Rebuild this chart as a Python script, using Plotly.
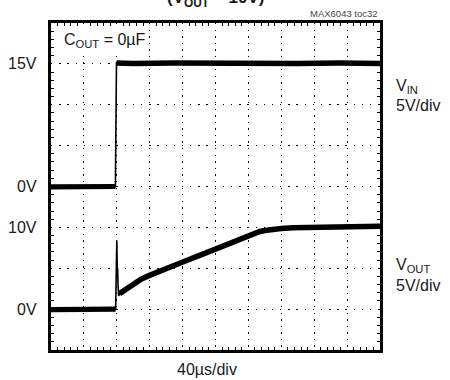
import plotly.graph_objects as go

# Time axis: 40 us/div, 10 divisions
t_vin = [0, 20, 40, 60, 78.3, 79.6, 100, 150, 200, 250, 300, 350, 400]
v_in = [-0.05, 0.0, -0.05, 0.0, 0.0, 15.1, 15.05, 15.1, 15.05, 15.1, 15.05, 15.1, 15.05]

t_vout = [0, 20, 40, 60, 78.6, 79.2, 80.0, 80.6, 81.0, 81.5, 82.3, 83.3, 90, 100, 110,
          120.5, 132.7, 140, 161, 180, 201.6, 220, 235, 242, 248, 254, 260, 266, 272,
          280, 294, 315, 335, 360, 396, 400]
v_out = [-0.05, 0.0, -0.05, 0.0, 0.0, 3.5, 8.4, 4.5, 5.0, 3.0, 1.6, 1.9, 2.4, 3.15, 3.7,
         4.16, 4.7, 5.0, 5.8, 6.55, 7.43, 8.2, 8.85, 9.12, 9.33, 9.5, 9.62, 9.72, 9.8,
         9.87, 9.95, 10.02, 10.07, 10.1, 10.15, 10.15]

left_labels_vin = [(15, "15V"), (0, "0V")]
left_labels_vout = [(10, "10V"), (0, "0V")]

FONT = "Liberation Sans, Arial, sans-serif"
INK = "#1a1a1a"
FS = 16

# indices where the scope trace switches between slow (thick) and fast (thin) parts
VIN_EDGE = 5
VOUT_EDGE, VOUT_SETTLE = 5, 11


def trace(x, y, axis, width):
    return go.Scatter(x=x, y=y, mode="lines", yaxis=axis, hoverinfo="skip",
                      line=dict(color="black", width=width))


fig = go.Figure()
# thin full-length traces show the fast transitions
fig.add_trace(trace(t_vout, v_out, "y", 1.6))
fig.add_trace(trace(t_vin, v_in, "y2", 1.6))
# thick overlays for the slowly varying parts
fig.add_trace(trace(t_vout[:VOUT_EDGE], v_out[:VOUT_EDGE], "y", 5.2))
fig.add_trace(trace(t_vout[VOUT_SETTLE:], v_out[VOUT_SETTLE:], "y", 5.5))
fig.add_trace(trace(t_vin[:VIN_EDGE], v_in[:VIN_EDGE], "y2", 5.2))
fig.add_trace(trace(t_vin[VIN_EDGE:], v_in[VIN_EDGE:], "y2", 5.5))

grid_common = dict(showline=True, linecolor="black", linewidth=3, mirror="ticks",
                   ticks="inside", ticklen=0, tickcolor="black",
                   showticklabels=False, zeroline=False, gridcolor="black",
                   gridwidth=1.4)

fig.update_layout(
    width=450, height=380,
    margin=dict(l=51, r=70, t=23, b=30),
    paper_bgcolor="white", plot_bgcolor="white",
    showlegend=False,
    xaxis=dict(range=[0, 400], dtick=40, tick0=0, griddash="1.4px,5.18px",
               minor=dict(dtick=8, ticks="inside", ticklen=3, tickcolor="black",
                          tickwidth=1.4, showgrid=False),
               **grid_common),
    yaxis=dict(range=[-5, 35], dtick=5, tick0=-5, griddash="1.4px,6.78px",
               minor=dict(dtick=1, ticks="inside", ticklen=3, tickcolor="black",
                          tickwidth=1.4, showgrid=False),
               **grid_common),
    yaxis2=dict(range=[-20, 20], overlaying="y", visible=False),
)

ann = []
for v, txt in left_labels_vin:
    ann.append(dict(x=-0.036, xref="paper", y=v, yref="y2", text=txt,
                    xanchor="right", yanchor="middle", showarrow=False,
                    font=dict(family=FONT, size=FS, color=INK)))
for v, txt in left_labels_vout:
    ann.append(dict(x=-0.036, xref="paper", y=v, yref="y", text=txt,
                    xanchor="right", yanchor="middle", showarrow=False,
                    font=dict(family=FONT, size=FS, color=INK)))

side = [("V<sub>IN</sub>", 87), ("5V/div", 106), ("V<sub>OUT</sub>", 266), ("5V/div", 286)]
for txt, py in side:
    ann.append(dict(x=1.0426, xref="paper", y=(350.5 - py) / 327, yref="paper",
                    text=txt, xanchor="left", yanchor="middle", showarrow=False,
                    font=dict(family=FONT, size=FS, color=INK)))

ann.append(dict(x=(62 - 51) / 329, xref="paper", y=(350.5 - 41) / 327, yref="paper",
                text="C<sub>OUT</sub> = 0µF", xanchor="left", yanchor="middle",
                bgcolor="white", borderpad=1,
                showarrow=False, font=dict(family=FONT, size=FS, color=INK)))
ann.append(dict(x=(207 - 51) / 329, xref="paper", y=(350.5 - 370) / 327, yref="paper",
                text="40µs/div", xanchor="center", yanchor="middle",
                showarrow=False, font=dict(family=FONT, size=FS, color=INK)))
ann.append(dict(x=1.0, xref="paper", y=(350.5 - 13.5) / 327, yref="paper",
                text="MAX6043 toc32", xanchor="right", yanchor="middle",
                showarrow=False, font=dict(family=FONT, size=9.5, color="#444")))
ann.append(dict(x=(215 - 51) / 329, xref="paper", y=(350.5 + 1) / 327, yref="paper",
                text="<b>(V<sub>OUT</sub> = 10V)</b>", xanchor="center", yanchor="middle",
                showarrow=False, font=dict(family=FONT, size=17, color=INK)))

fig.update_layout(annotations=ann)
fig.write_html("out.html")
